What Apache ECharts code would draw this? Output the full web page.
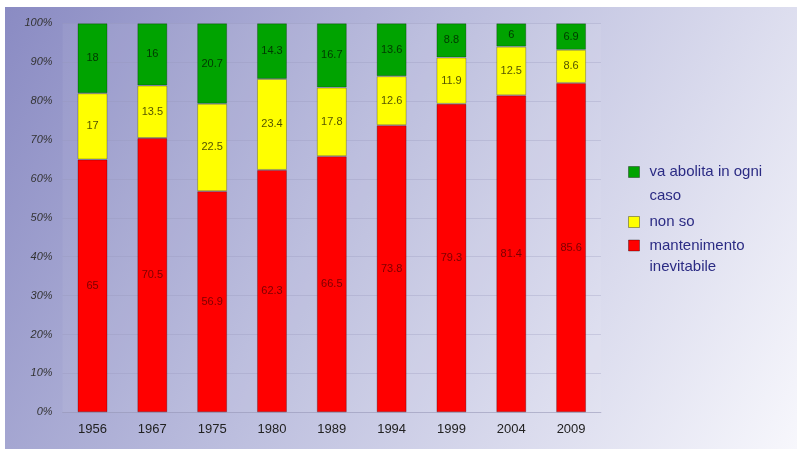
<!DOCTYPE html>
<html><head><meta charset="utf-8">
<script src="https://cdn.jsdelivr.net/npm/echarts@6/dist/echarts.min.js"></script>
<style>html,body{margin:0;padding:0;background:#fff}#c{width:797px;height:449px}</style>
</head><body><div id="c"></div>
<script>
const categories = ['1956','1967','1975','1980','1989','1994','1999','2004','2009'];
const mantenimento = [65, 70.5, 56.9, 62.3, 66.5, 73.8, 79.3, 81.4, 85.6];
const nonSo = [17, 13.5, 22.5, 23.4, 17.8, 12.6, 11.9, 12.5, 8.6];
const abolita = [18, 16, 20.7, 14.3, 16.7, 13.6, 8.8, 6, 6.9];
const yTicks = [0,10,20,30,40,50,60,70,80,90,100];
const names = ['mantenimento inevitabile','non so','va abolita in ogni caso'];

const raw = [mantenimento, nonSo, abolita];
const totals = categories.map((c,i)=>raw.reduce((s,a)=>s+a[i],0));
const pct = raw.map(a=>a.map((v,i)=>v/totals[i]*100));
const colors = ['#ff0000','#ffff00','#00a300'];
const labelColors = ['rgba(90,0,0,0.8)','rgba(40,40,0,0.8)','rgba(0,30,0,0.8)'];

const chart = echarts.init(document.getElementById('c'));
function mkLegend(name, top, text, lh){
  return {
    show:true, orient:'vertical', left:628, top:top, padding:0,
    itemWidth:11, itemHeight:11, icon:'rect',
    data:[{name:name, itemStyle:{borderColor:'rgba(0,0,0,0.35)',borderWidth:1}}],
    formatter:()=>text,
    textStyle:{fontFamily:'Liberation Sans, Arial, sans-serif',fontSize:15,color:'#2b2b84',lineHeight:lh,padding:[0,0,0,5]},
    selectedMode:false
  };
}
chart.setOption({
  animation:false,
  graphic:[{type:'rect',z:-10,shape:{x:5,y:7,width:792,height:442},
    style:{fill:new echarts.graphic.LinearGradient(0,0,1,1,[
      {offset:0,color:'#8a8bc3'},{offset:0.45,color:'#bcbede'},{offset:1,color:'#f7f7fc'}])}}],
  legend:[
    mkLegend(names[2], 136, ' \nva abolita in ogni\ncaso', 24),
    mkLegend(names[1], 210, 'non so', 24),
    mkLegend(names[0], 214, ' \nmantenimento\ninevitabile', 21)
  ],
  grid:{left:62.6,right:196,top:23.3,bottom:36.7,show:true,backgroundColor:'rgba(255,255,255,0.06)',borderWidth:0},
  xAxis:{type:'category',data:categories,
    axisLine:{show:true,lineStyle:{color:'rgba(150,150,180,0.4)'}},axisTick:{show:false},
    axisLabel:{fontFamily:'Liberation Sans, Arial, sans-serif',fontSize:13,color:'#222',margin:11}},
  yAxis:{type:'value',min:0,max:100,interval:10,
    axisLine:{show:false},axisTick:{show:false},
    splitLine:{lineStyle:{color:'rgba(150,150,185,0.3)'}},
    axisLabel:{fontFamily:'Liberation Sans, Arial, sans-serif',fontSize:11,fontStyle:'italic',color:'#333',margin:10,
      formatter:v=>yTicks.includes(v)?v+'%':''}},
  series: raw.map((arr,k)=>({
    name:names[k],type:'bar',stack:'t',barWidth:30,data:pct[k],
    itemStyle:{color:colors[k],borderColor:'rgba(0,0,0,0.25)',borderWidth:1},
    label:{show:true,position:'inside',fontFamily:'Liberation Sans, Arial, sans-serif',fontSize:11,color:labelColors[k],
      formatter:p=>String(arr[p.dataIndex])}
  }))
});
</script></body></html>
